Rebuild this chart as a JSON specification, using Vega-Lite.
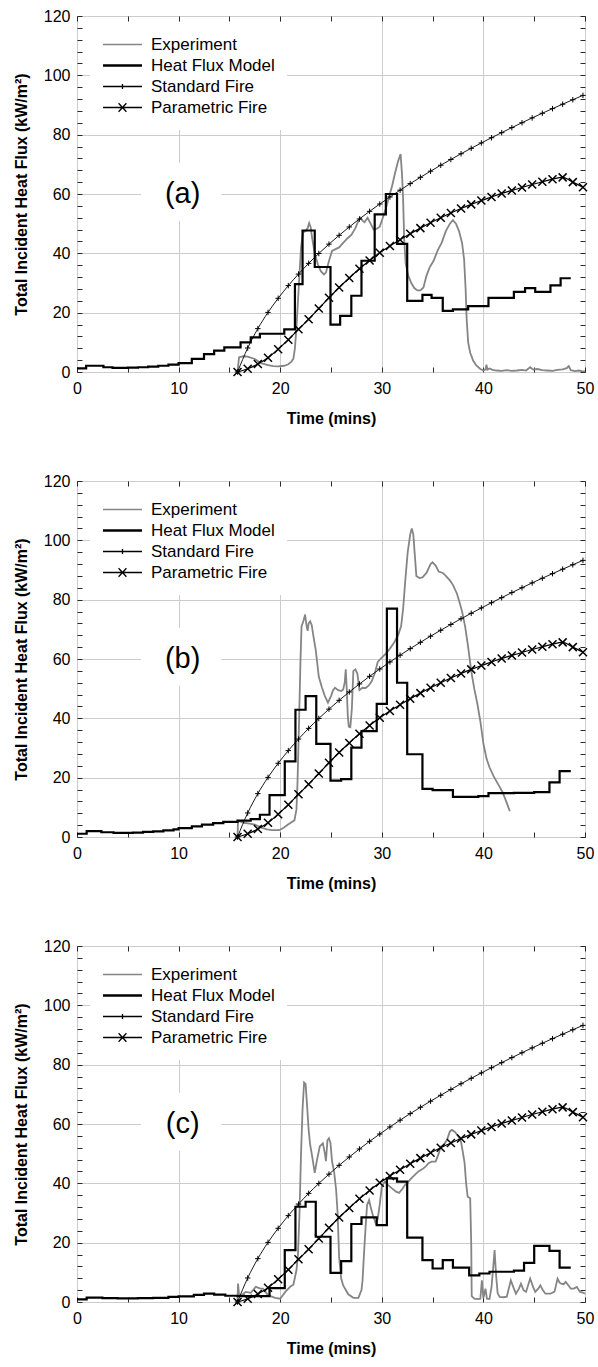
{
  "$schema": "https://vega.github.io/schema/vega-lite/v6.json",
  "padding": {"left": 12, "top": 7, "right": 0, "bottom": 0},
  "spacing": 45,
  "config": {
    "view": {"stroke": "#2a2a2a", "strokeWidth": 1},
    "font": "Liberation Sans",
    "axis": {"domain": false, "labelFont": "Liberation Sans", "labelFontSize": 16, "labelColor": "#000", "titleFont": "Liberation Sans", "titleFontSize": 16, "titleFontWeight": "bold", "titleColor": "#000", "gridColor": "#cccccc", "gridWidth": 1, "tickColor": "#2a2a2a", "tickWidth": 1, "labelFlush": false, "labelOverlap": false}
  },
  "resolve": {"scale": {"color": "independent", "x": "independent", "y": "independent"}},
  "datasets": {
    "std": [
      {"t":15.8,"q":0,"series":"Standard Fire"},{"t":16.8,"q":8.09,"series":"Standard Fire"},{"t":17.8,"q":14.62,"series":"Standard Fire"},{"t":18.8,"q":20.09,"series":"Standard Fire"},{"t":19.8,"q":24.84,"series":"Standard Fire"},{"t":20.8,"q":29.12,"series":"Standard Fire"},{"t":21.8,"q":33.01,"series":"Standard Fire"},{"t":22.8,"q":36.62,"series":"Standard Fire"},{"t":23.8,"q":39.95,"series":"Standard Fire"},{"t":24.8,"q":43.1,"series":"Standard Fire"},{"t":25.8,"q":46.07,"series":"Standard Fire"},{"t":26.8,"q":48.89,"series":"Standard Fire"},{"t":27.8,"q":51.58,"series":"Standard Fire"},{"t":28.8,"q":54.16,"series":"Standard Fire"},{"t":29.8,"q":56.62,"series":"Standard Fire"},{"t":30.8,"q":59.0,"series":"Standard Fire"},{"t":31.8,"q":61.29,"series":"Standard Fire"},{"t":32.8,"q":63.5,"series":"Standard Fire"},{"t":33.8,"q":65.63,"series":"Standard Fire"},{"t":34.8,"q":67.69,"series":"Standard Fire"},{"t":35.8,"q":69.69,"series":"Standard Fire"},{"t":36.8,"q":71.65,"series":"Standard Fire"},{"t":37.8,"q":73.57,"series":"Standard Fire"},{"t":38.8,"q":75.41,"series":"Standard Fire"},{"t":39.8,"q":77.21,"series":"Standard Fire"},{"t":40.8,"q":78.97,"series":"Standard Fire"},{"t":41.8,"q":80.68,"series":"Standard Fire"},{"t":42.8,"q":82.38,"series":"Standard Fire"},{"t":43.8,"q":84.02,"series":"Standard Fire"},{"t":44.8,"q":85.65,"series":"Standard Fire"},{"t":45.8,"q":87.22,"series":"Standard Fire"},{"t":46.8,"q":88.77,"series":"Standard Fire"},{"t":47.8,"q":90.27,"series":"Standard Fire"},{"t":48.8,"q":91.77,"series":"Standard Fire"},{"t":49.8,"q":93.24,"series":"Standard Fire"}
    ],
    "par": [
      {"t":15.8,"q":0,"series":"Parametric Fire"},{"t":16.8,"q":1.1,"series":"Parametric Fire"},{"t":17.8,"q":2.7,"series":"Parametric Fire"},{"t":18.8,"q":4.8,"series":"Parametric Fire"},{"t":19.8,"q":7.7,"series":"Parametric Fire"},{"t":20.8,"q":10.9,"series":"Parametric Fire"},{"t":21.8,"q":14.4,"series":"Parametric Fire"},{"t":22.8,"q":17.8,"series":"Parametric Fire"},{"t":23.8,"q":21.4,"series":"Parametric Fire"},{"t":24.8,"q":25.0,"series":"Parametric Fire"},{"t":25.8,"q":28.5,"series":"Parametric Fire"},{"t":26.8,"q":31.7,"series":"Parametric Fire"},{"t":27.8,"q":34.8,"series":"Parametric Fire"},{"t":28.8,"q":37.6,"series":"Parametric Fire"},{"t":29.8,"q":40.2,"series":"Parametric Fire"},{"t":30.8,"q":42.5,"series":"Parametric Fire"},{"t":31.8,"q":44.6,"series":"Parametric Fire"},{"t":32.8,"q":46.6,"series":"Parametric Fire"},{"t":33.8,"q":48.5,"series":"Parametric Fire"},{"t":34.8,"q":50.3,"series":"Parametric Fire"},{"t":35.8,"q":52.0,"series":"Parametric Fire"},{"t":36.8,"q":53.6,"series":"Parametric Fire"},{"t":37.8,"q":55.1,"series":"Parametric Fire"},{"t":38.8,"q":56.5,"series":"Parametric Fire"},{"t":39.8,"q":57.8,"series":"Parametric Fire"},{"t":40.8,"q":59.0,"series":"Parametric Fire"},{"t":41.8,"q":60.2,"series":"Parametric Fire"},{"t":42.8,"q":61.2,"series":"Parametric Fire"},{"t":43.8,"q":62.2,"series":"Parametric Fire"},{"t":44.8,"q":63.2,"series":"Parametric Fire"},{"t":45.8,"q":64.1,"series":"Parametric Fire"},{"t":46.8,"q":65.0,"series":"Parametric Fire"},{"t":47.8,"q":65.6,"series":"Parametric Fire"},{"t":48.8,"q":64.0,"series":"Parametric Fire"},{"t":49.8,"q":62.3,"series":"Parametric Fire"}
    ],
    "a_exp": [
      {"t":15.8,"q":0.2,"series":"Experiment"},{"t":15.95,"q":5.0,"series":"Experiment"},{"t":16.4,"q":5.3,"series":"Experiment"},{"t":16.8,"q":5.2,"series":"Experiment"},{"t":17.5,"q":4.4,"series":"Experiment"},{"t":18.1,"q":3.0,"series":"Experiment"},{"t":18.8,"q":2.3,"series":"Experiment"},{"t":19.3,"q":2.0,"series":"Experiment"},{"t":19.8,"q":1.9,"series":"Experiment"},{"t":20.4,"q":2.1,"series":"Experiment"},{"t":20.8,"q":2.6,"series":"Experiment"},{"t":21.1,"q":3.5,"series":"Experiment"},{"t":21.3,"q":4.5,"series":"Experiment"},{"t":21.45,"q":8,"series":"Experiment"},{"t":21.6,"q":15,"series":"Experiment"},{"t":21.75,"q":24,"series":"Experiment"},{"t":21.9,"q":33,"series":"Experiment"},{"t":22.05,"q":42,"series":"Experiment"},{"t":22.25,"q":47,"series":"Experiment"},{"t":22.5,"q":47.5,"series":"Experiment"},{"t":22.7,"q":48.5,"series":"Experiment"},{"t":22.85,"q":50.2,"series":"Experiment"},{"t":23.0,"q":48.8,"series":"Experiment"},{"t":23.15,"q":45,"series":"Experiment"},{"t":23.4,"q":40,"series":"Experiment"},{"t":23.7,"q":36.3,"series":"Experiment"},{"t":24.0,"q":34,"series":"Experiment"},{"t":24.3,"q":32.9,"series":"Experiment"},{"t":24.5,"q":33.5,"series":"Experiment"},{"t":24.8,"q":37.4,"series":"Experiment"},{"t":25.1,"q":40.8,"series":"Experiment"},{"t":25.5,"q":41.5,"series":"Experiment"},{"t":25.8,"q":42,"series":"Experiment"},{"t":26.2,"q":43.5,"series":"Experiment"},{"t":26.6,"q":45,"series":"Experiment"},{"t":27.0,"q":46.2,"series":"Experiment"},{"t":27.4,"q":48.5,"series":"Experiment"},{"t":27.7,"q":51,"series":"Experiment"},{"t":27.9,"q":52,"series":"Experiment"},{"t":28.1,"q":51,"series":"Experiment"},{"t":28.3,"q":50.5,"series":"Experiment"},{"t":28.6,"q":52,"series":"Experiment"},{"t":28.9,"q":50,"series":"Experiment"},{"t":29.2,"q":48,"series":"Experiment"},{"t":29.5,"q":48.3,"series":"Experiment"},{"t":29.8,"q":49,"series":"Experiment"},{"t":30.1,"q":52,"series":"Experiment"},{"t":30.4,"q":55,"series":"Experiment"},{"t":30.7,"q":59,"series":"Experiment"},{"t":31.0,"q":62.5,"series":"Experiment"},{"t":31.3,"q":67,"series":"Experiment"},{"t":31.6,"q":71,"series":"Experiment"},{"t":31.85,"q":73.5,"series":"Experiment"},{"t":32.0,"q":66,"series":"Experiment"},{"t":32.1,"q":58,"series":"Experiment"},{"t":32.2,"q":45,"series":"Experiment"},{"t":32.35,"q":36.5,"series":"Experiment"},{"t":32.6,"q":32.5,"series":"Experiment"},{"t":32.9,"q":30,"series":"Experiment"},{"t":33.2,"q":28.3,"series":"Experiment"},{"t":33.5,"q":27.5,"series":"Experiment"},{"t":33.8,"q":27.5,"series":"Experiment"},{"t":34.1,"q":28.5,"series":"Experiment"},{"t":34.4,"q":32.5,"series":"Experiment"},{"t":34.7,"q":35.2,"series":"Experiment"},{"t":35.1,"q":37.5,"series":"Experiment"},{"t":35.5,"q":41,"series":"Experiment"},{"t":35.9,"q":43.6,"series":"Experiment"},{"t":36.3,"q":47.5,"series":"Experiment"},{"t":36.7,"q":50,"series":"Experiment"},{"t":37.0,"q":51.2,"series":"Experiment"},{"t":37.3,"q":50,"series":"Experiment"},{"t":37.6,"q":47.5,"series":"Experiment"},{"t":37.9,"q":43.5,"series":"Experiment"},{"t":38.1,"q":38,"series":"Experiment"},{"t":38.25,"q":28,"series":"Experiment"},{"t":38.35,"q":18,"series":"Experiment"},{"t":38.5,"q":10,"series":"Experiment"},{"t":38.7,"q":6.5,"series":"Experiment"},{"t":39.0,"q":3.8,"series":"Experiment"},{"t":39.3,"q":2.2,"series":"Experiment"},{"t":39.7,"q":1.0,"series":"Experiment"},{"t":40.0,"q":0.5,"series":"Experiment"},{"t":40.2,"q":0.8,"series":"Experiment"},{"t":40.3,"q":2.5,"series":"Experiment"},{"t":40.4,"q":0.8,"series":"Experiment"},{"t":40.6,"q":1.2,"series":"Experiment"},{"t":40.9,"q":0.7,"series":"Experiment"},{"t":41.3,"q":0.5,"series":"Experiment"},{"t":41.8,"q":0.4,"series":"Experiment"},{"t":42.3,"q":0.6,"series":"Experiment"},{"t":42.8,"q":0.4,"series":"Experiment"},{"t":43.3,"q":0.5,"series":"Experiment"},{"t":43.8,"q":0.7,"series":"Experiment"},{"t":44.2,"q":0.5,"series":"Experiment"},{"t":44.6,"q":1.6,"series":"Experiment"},{"t":44.9,"q":0.8,"series":"Experiment"},{"t":45.3,"q":1.0,"series":"Experiment"},{"t":45.8,"q":0.6,"series":"Experiment"},{"t":46.3,"q":0.5,"series":"Experiment"},{"t":46.8,"q":0.4,"series":"Experiment"},{"t":47.3,"q":0.7,"series":"Experiment"},{"t":47.8,"q":0.9,"series":"Experiment"},{"t":48.2,"q":1.3,"series":"Experiment"},{"t":48.4,"q":2.0,"series":"Experiment"},{"t":48.6,"q":0.6,"series":"Experiment"},{"t":49.0,"q":0.3,"series":"Experiment"},{"t":49.4,"q":0.5,"series":"Experiment"},{"t":49.7,"q":0.3,"series":"Experiment"},{"t":50.0,"q":0.2,"series":"Experiment"}
    ],
    "a_mod": [
      {"t":0,"q":1.2,"series":"Heat Flux Model"},{"t":0.9,"q":2.1,"series":"Heat Flux Model"},{"t":2.6,"q":1.6,"series":"Heat Flux Model"},{"t":3.5,"q":1.4,"series":"Heat Flux Model"},{"t":5.0,"q":1.5,"series":"Heat Flux Model"},{"t":6.0,"q":1.6,"series":"Heat Flux Model"},{"t":7.0,"q":1.8,"series":"Heat Flux Model"},{"t":8.0,"q":2.1,"series":"Heat Flux Model"},{"t":9.0,"q":2.5,"series":"Heat Flux Model"},{"t":10.0,"q":3.0,"series":"Heat Flux Model"},{"t":11.3,"q":4.4,"series":"Heat Flux Model"},{"t":12.5,"q":6.0,"series":"Heat Flux Model"},{"t":13.5,"q":7.2,"series":"Heat Flux Model"},{"t":14.5,"q":8.3,"series":"Heat Flux Model"},{"t":16.1,"q":10.0,"series":"Heat Flux Model"},{"t":17.1,"q":11.7,"series":"Heat Flux Model"},{"t":18.0,"q":12.9,"series":"Heat Flux Model"},{"t":20.4,"q":14.4,"series":"Heat Flux Model"},{"t":21.45,"q":29.6,"series":"Heat Flux Model"},{"t":22.2,"q":47.7,"series":"Heat Flux Model"},{"t":23.4,"q":35.4,"series":"Heat Flux Model"},{"t":24.95,"q":16.0,"series":"Heat Flux Model"},{"t":25.9,"q":18.9,"series":"Heat Flux Model"},{"t":27.0,"q":25.7,"series":"Heat Flux Model"},{"t":28.0,"q":37.5,"series":"Heat Flux Model"},{"t":29.3,"q":53.1,"series":"Heat Flux Model"},{"t":30.4,"q":60.0,"series":"Heat Flux Model"},{"t":31.5,"q":43.2,"series":"Heat Flux Model"},{"t":32.5,"q":24.0,"series":"Heat Flux Model"},{"t":34.0,"q":26.0,"series":"Heat Flux Model"},{"t":34.9,"q":25.0,"series":"Heat Flux Model"},{"t":36.0,"q":20.6,"series":"Heat Flux Model"},{"t":37.0,"q":21.1,"series":"Heat Flux Model"},{"t":38.5,"q":22.2,"series":"Heat Flux Model"},{"t":40.5,"q":25.0,"series":"Heat Flux Model"},{"t":43.0,"q":27.0,"series":"Heat Flux Model"},{"t":44.1,"q":28.3,"series":"Heat Flux Model"},{"t":45.1,"q":27.0,"series":"Heat Flux Model"},{"t":46.6,"q":29.2,"series":"Heat Flux Model"},{"t":47.6,"q":31.6,"series":"Heat Flux Model"},{"t":48.6,"q":31.6,"series":"Heat Flux Model"}
    ],
    "b_exp": [
      {"t":15.8,"q":0,"series":"Experiment"},{"t":15.85,"q":5.5,"series":"Experiment"},{"t":16.4,"q":4.8,"series":"Experiment"},{"t":17.0,"q":4.5,"series":"Experiment"},{"t":17.5,"q":4.2,"series":"Experiment"},{"t":18.2,"q":3.1,"series":"Experiment"},{"t":18.7,"q":2.6,"series":"Experiment"},{"t":19.2,"q":2.3,"series":"Experiment"},{"t":19.9,"q":2.3,"series":"Experiment"},{"t":20.3,"q":3.0,"series":"Experiment"},{"t":20.6,"q":3.8,"series":"Experiment"},{"t":21.1,"q":5.0,"series":"Experiment"},{"t":21.4,"q":5.6,"series":"Experiment"},{"t":21.6,"q":9.3,"series":"Experiment"},{"t":21.7,"q":18,"series":"Experiment"},{"t":21.85,"q":38,"series":"Experiment"},{"t":22.0,"q":60,"series":"Experiment"},{"t":22.1,"q":71,"series":"Experiment"},{"t":22.3,"q":73,"series":"Experiment"},{"t":22.45,"q":75,"series":"Experiment"},{"t":22.6,"q":71,"series":"Experiment"},{"t":22.7,"q":69.5,"series":"Experiment"},{"t":22.8,"q":72,"series":"Experiment"},{"t":22.95,"q":72.7,"series":"Experiment"},{"t":23.1,"q":71.5,"series":"Experiment"},{"t":23.3,"q":67,"series":"Experiment"},{"t":23.5,"q":63,"series":"Experiment"},{"t":23.8,"q":54,"series":"Experiment"},{"t":24.1,"q":50.5,"series":"Experiment"},{"t":24.4,"q":47.5,"series":"Experiment"},{"t":24.7,"q":45.3,"series":"Experiment"},{"t":25.0,"q":47.5,"series":"Experiment"},{"t":25.2,"q":49.5,"series":"Experiment"},{"t":25.4,"q":50.3,"series":"Experiment"},{"t":25.7,"q":49.5,"series":"Experiment"},{"t":26.0,"q":49.2,"series":"Experiment"},{"t":26.2,"q":49.7,"series":"Experiment"},{"t":26.35,"q":52,"series":"Experiment"},{"t":26.45,"q":56.5,"series":"Experiment"},{"t":26.55,"q":50,"series":"Experiment"},{"t":26.65,"q":41,"series":"Experiment"},{"t":26.75,"q":37.2,"series":"Experiment"},{"t":26.9,"q":37,"series":"Experiment"},{"t":27.05,"q":43,"series":"Experiment"},{"t":27.2,"q":56,"series":"Experiment"},{"t":27.4,"q":56.5,"series":"Experiment"},{"t":27.6,"q":55,"series":"Experiment"},{"t":27.8,"q":49.5,"series":"Experiment"},{"t":28.1,"q":50.3,"series":"Experiment"},{"t":28.4,"q":50.2,"series":"Experiment"},{"t":28.7,"q":51,"series":"Experiment"},{"t":29.0,"q":52.5,"series":"Experiment"},{"t":29.3,"q":55,"series":"Experiment"},{"t":29.6,"q":59,"series":"Experiment"},{"t":30.0,"q":60.5,"series":"Experiment"},{"t":30.4,"q":61.8,"series":"Experiment"},{"t":30.8,"q":63.5,"series":"Experiment"},{"t":31.2,"q":65.5,"series":"Experiment"},{"t":31.6,"q":68,"series":"Experiment"},{"t":31.9,"q":71,"series":"Experiment"},{"t":32.1,"q":77,"series":"Experiment"},{"t":32.3,"q":86,"series":"Experiment"},{"t":32.55,"q":96,"series":"Experiment"},{"t":32.8,"q":102,"series":"Experiment"},{"t":32.95,"q":104,"series":"Experiment"},{"t":33.1,"q":102,"series":"Experiment"},{"t":33.25,"q":95,"series":"Experiment"},{"t":33.4,"q":88,"series":"Experiment"},{"t":33.7,"q":87.3,"series":"Experiment"},{"t":34.0,"q":87.5,"series":"Experiment"},{"t":34.4,"q":89,"series":"Experiment"},{"t":34.8,"q":92,"series":"Experiment"},{"t":35.0,"q":92.6,"series":"Experiment"},{"t":35.3,"q":91.5,"series":"Experiment"},{"t":35.6,"q":89.5,"series":"Experiment"},{"t":36.0,"q":89,"series":"Experiment"},{"t":36.3,"q":88,"series":"Experiment"},{"t":36.7,"q":86.5,"series":"Experiment"},{"t":37.0,"q":85,"series":"Experiment"},{"t":37.4,"q":82,"series":"Experiment"},{"t":37.7,"q":78.5,"series":"Experiment"},{"t":37.9,"q":76,"series":"Experiment"},{"t":38.2,"q":71,"series":"Experiment"},{"t":38.5,"q":64,"series":"Experiment"},{"t":38.8,"q":56,"series":"Experiment"},{"t":39.1,"q":50,"series":"Experiment"},{"t":39.4,"q":45,"series":"Experiment"},{"t":39.7,"q":39,"series":"Experiment"},{"t":40.0,"q":31.5,"series":"Experiment"},{"t":40.3,"q":26.5,"series":"Experiment"},{"t":40.6,"q":23.5,"series":"Experiment"},{"t":41.0,"q":20.5,"series":"Experiment"},{"t":41.5,"q":17.5,"series":"Experiment"},{"t":41.9,"q":15,"series":"Experiment"},{"t":42.3,"q":11.5,"series":"Experiment"},{"t":42.6,"q":8.7,"series":"Experiment"}
    ],
    "b_mod": [
      {"t":0,"q":1.1,"series":"Heat Flux Model"},{"t":0.95,"q":2.0,"series":"Heat Flux Model"},{"t":2.4,"q":1.6,"series":"Heat Flux Model"},{"t":3.6,"q":1.4,"series":"Heat Flux Model"},{"t":5.5,"q":1.5,"series":"Heat Flux Model"},{"t":6.5,"q":1.7,"series":"Heat Flux Model"},{"t":7.5,"q":1.9,"series":"Heat Flux Model"},{"t":8.5,"q":2.2,"series":"Heat Flux Model"},{"t":9.5,"q":2.6,"series":"Heat Flux Model"},{"t":10.0,"q":3.0,"series":"Heat Flux Model"},{"t":11.3,"q":3.6,"series":"Heat Flux Model"},{"t":12.3,"q":4.2,"series":"Heat Flux Model"},{"t":13.4,"q":4.7,"series":"Heat Flux Model"},{"t":14.4,"q":5.1,"series":"Heat Flux Model"},{"t":15.8,"q":5.5,"series":"Heat Flux Model"},{"t":17.1,"q":6.0,"series":"Heat Flux Model"},{"t":18.0,"q":7.5,"series":"Heat Flux Model"},{"t":18.95,"q":14.1,"series":"Heat Flux Model"},{"t":20.45,"q":25.5,"series":"Heat Flux Model"},{"t":21.5,"q":42.9,"series":"Heat Flux Model"},{"t":22.5,"q":47.5,"series":"Heat Flux Model"},{"t":23.55,"q":31.4,"series":"Heat Flux Model"},{"t":24.95,"q":19.0,"series":"Heat Flux Model"},{"t":26.0,"q":19.5,"series":"Heat Flux Model"},{"t":27.0,"q":30.1,"series":"Heat Flux Model"},{"t":28.0,"q":35.7,"series":"Heat Flux Model"},{"t":29.5,"q":44.9,"series":"Heat Flux Model"},{"t":30.5,"q":77.0,"series":"Heat Flux Model"},{"t":31.5,"q":52.0,"series":"Heat Flux Model"},{"t":32.5,"q":27.9,"series":"Heat Flux Model"},{"t":34.0,"q":16.2,"series":"Heat Flux Model"},{"t":35.0,"q":15.8,"series":"Heat Flux Model"},{"t":37.0,"q":13.5,"series":"Heat Flux Model"},{"t":39.5,"q":13.8,"series":"Heat Flux Model"},{"t":40.5,"q":14.8,"series":"Heat Flux Model"},{"t":43.0,"q":14.9,"series":"Heat Flux Model"},{"t":45.0,"q":15.1,"series":"Heat Flux Model"},{"t":46.5,"q":18.4,"series":"Heat Flux Model"},{"t":47.5,"q":22.2,"series":"Heat Flux Model"},{"t":48.6,"q":22.2,"series":"Heat Flux Model"}
    ],
    "c_exp": [
      {"t":15.8,"q":0.5,"series":"Experiment"},{"t":15.85,"q":6.2,"series":"Experiment"},{"t":15.95,"q":2.5,"series":"Experiment"},{"t":16.2,"q":2.3,"series":"Experiment"},{"t":16.6,"q":3.4,"series":"Experiment"},{"t":17.1,"q":3.1,"series":"Experiment"},{"t":17.6,"q":5.1,"series":"Experiment"},{"t":18.0,"q":4.6,"series":"Experiment"},{"t":18.3,"q":4.5,"series":"Experiment"},{"t":18.8,"q":2.3,"series":"Experiment"},{"t":19.5,"q":1.4,"series":"Experiment"},{"t":20.0,"q":1.1,"series":"Experiment"},{"t":20.5,"q":3.4,"series":"Experiment"},{"t":21.0,"q":5.2,"series":"Experiment"},{"t":21.3,"q":5.8,"series":"Experiment"},{"t":21.6,"q":10.7,"series":"Experiment"},{"t":21.75,"q":16,"series":"Experiment"},{"t":21.9,"q":30,"series":"Experiment"},{"t":22.05,"q":50,"series":"Experiment"},{"t":22.2,"q":65,"series":"Experiment"},{"t":22.35,"q":74,"series":"Experiment"},{"t":22.5,"q":73.5,"series":"Experiment"},{"t":22.65,"q":66,"series":"Experiment"},{"t":22.8,"q":58,"series":"Experiment"},{"t":22.95,"q":53,"series":"Experiment"},{"t":23.15,"q":49,"series":"Experiment"},{"t":23.4,"q":43.5,"series":"Experiment"},{"t":23.6,"q":47.5,"series":"Experiment"},{"t":23.9,"q":52.5,"series":"Experiment"},{"t":24.2,"q":53.5,"series":"Experiment"},{"t":24.4,"q":50,"series":"Experiment"},{"t":24.5,"q":47.5,"series":"Experiment"},{"t":24.65,"q":54.5,"series":"Experiment"},{"t":24.8,"q":55.2,"series":"Experiment"},{"t":24.95,"q":53.5,"series":"Experiment"},{"t":25.1,"q":47.5,"series":"Experiment"},{"t":25.3,"q":44,"series":"Experiment"},{"t":25.5,"q":38,"series":"Experiment"},{"t":25.65,"q":30,"series":"Experiment"},{"t":25.8,"q":15,"series":"Experiment"},{"t":26.0,"q":8,"series":"Experiment"},{"t":26.2,"q":5.6,"series":"Experiment"},{"t":26.7,"q":2.6,"series":"Experiment"},{"t":27.2,"q":1.4,"series":"Experiment"},{"t":27.7,"q":1.4,"series":"Experiment"},{"t":28.0,"q":4,"series":"Experiment"},{"t":28.1,"q":7,"series":"Experiment"},{"t":28.25,"q":16.4,"series":"Experiment"},{"t":28.4,"q":25,"series":"Experiment"},{"t":28.55,"q":32.7,"series":"Experiment"},{"t":28.75,"q":34.4,"series":"Experiment"},{"t":28.9,"q":32,"series":"Experiment"},{"t":29.1,"q":29.5,"series":"Experiment"},{"t":29.4,"q":26.5,"series":"Experiment"},{"t":29.6,"q":28,"series":"Experiment"},{"t":29.8,"q":33,"series":"Experiment"},{"t":30.0,"q":38.9,"series":"Experiment"},{"t":30.3,"q":40.6,"series":"Experiment"},{"t":30.6,"q":39.5,"series":"Experiment"},{"t":31.0,"q":38.3,"series":"Experiment"},{"t":31.4,"q":37.2,"series":"Experiment"},{"t":31.7,"q":36.8,"series":"Experiment"},{"t":32.0,"q":38,"series":"Experiment"},{"t":32.3,"q":39.5,"series":"Experiment"},{"t":32.6,"q":40.5,"series":"Experiment"},{"t":32.9,"q":41.7,"series":"Experiment"},{"t":33.3,"q":43,"series":"Experiment"},{"t":33.6,"q":44,"series":"Experiment"},{"t":34.0,"q":44.8,"series":"Experiment"},{"t":34.3,"q":45.6,"series":"Experiment"},{"t":34.6,"q":46.8,"series":"Experiment"},{"t":34.9,"q":47.3,"series":"Experiment"},{"t":35.3,"q":47.3,"series":"Experiment"},{"t":35.6,"q":50,"series":"Experiment"},{"t":35.8,"q":52.4,"series":"Experiment"},{"t":36.1,"q":53,"series":"Experiment"},{"t":36.4,"q":54.5,"series":"Experiment"},{"t":36.7,"q":57.5,"series":"Experiment"},{"t":36.9,"q":58,"series":"Experiment"},{"t":37.2,"q":57.3,"series":"Experiment"},{"t":37.5,"q":56,"series":"Experiment"},{"t":37.8,"q":54,"series":"Experiment"},{"t":38.0,"q":50,"series":"Experiment"},{"t":38.15,"q":46.8,"series":"Experiment"},{"t":38.3,"q":40,"series":"Experiment"},{"t":38.45,"q":35.5,"series":"Experiment"},{"t":38.7,"q":35,"series":"Experiment"},{"t":38.8,"q":20,"series":"Experiment"},{"t":38.85,"q":2,"series":"Experiment"},{"t":39.1,"q":1.1,"series":"Experiment"},{"t":39.5,"q":1.0,"series":"Experiment"},{"t":39.7,"q":1.1,"series":"Experiment"},{"t":39.85,"q":7.3,"series":"Experiment"},{"t":40.0,"q":1.2,"series":"Experiment"},{"t":40.2,"q":4.5,"series":"Experiment"},{"t":40.35,"q":1.1,"series":"Experiment"},{"t":40.6,"q":1.0,"series":"Experiment"},{"t":40.8,"q":5.1,"series":"Experiment"},{"t":40.95,"q":11,"series":"Experiment"},{"t":41.1,"q":17.5,"series":"Experiment"},{"t":41.25,"q":9,"series":"Experiment"},{"t":41.4,"q":3,"series":"Experiment"},{"t":41.6,"q":1.7,"series":"Experiment"},{"t":42.0,"q":1.6,"series":"Experiment"},{"t":42.3,"q":1.8,"series":"Experiment"},{"t":42.7,"q":7.3,"series":"Experiment"},{"t":43.0,"q":4.5,"series":"Experiment"},{"t":43.2,"q":2.8,"series":"Experiment"},{"t":43.5,"q":4.5,"series":"Experiment"},{"t":43.7,"q":6.2,"series":"Experiment"},{"t":43.95,"q":4,"series":"Experiment"},{"t":44.2,"q":3.4,"series":"Experiment"},{"t":44.6,"q":7.9,"series":"Experiment"},{"t":44.9,"q":5,"series":"Experiment"},{"t":45.1,"q":3.4,"series":"Experiment"},{"t":45.4,"q":4.5,"series":"Experiment"},{"t":45.6,"q":5.6,"series":"Experiment"},{"t":45.85,"q":4,"series":"Experiment"},{"t":46.1,"q":2.8,"series":"Experiment"},{"t":46.6,"q":2.8,"series":"Experiment"},{"t":47.0,"q":3.5,"series":"Experiment"},{"t":47.3,"q":7.9,"series":"Experiment"},{"t":47.5,"q":6.5,"series":"Experiment"},{"t":47.65,"q":6.2,"series":"Experiment"},{"t":47.9,"q":6.0,"series":"Experiment"},{"t":48.1,"q":6.8,"series":"Experiment"},{"t":48.4,"q":5.5,"series":"Experiment"},{"t":48.6,"q":4.5,"series":"Experiment"},{"t":48.9,"q":4.5,"series":"Experiment"},{"t":49.2,"q":5.1,"series":"Experiment"},{"t":49.5,"q":3.4,"series":"Experiment"},{"t":49.8,"q":3.2,"series":"Experiment"},{"t":50.0,"q":2.8,"series":"Experiment"}
    ],
    "c_mod": [
      {"t":0,"q":0.9,"series":"Heat Flux Model"},{"t":0.95,"q":1.5,"series":"Heat Flux Model"},{"t":2.5,"q":1.3,"series":"Heat Flux Model"},{"t":4.0,"q":1.2,"series":"Heat Flux Model"},{"t":6.0,"q":1.3,"series":"Heat Flux Model"},{"t":7.5,"q":1.4,"series":"Heat Flux Model"},{"t":9.0,"q":1.7,"series":"Heat Flux Model"},{"t":10.0,"q":1.9,"series":"Heat Flux Model"},{"t":11.5,"q":2.4,"series":"Heat Flux Model"},{"t":12.5,"q":2.8,"series":"Heat Flux Model"},{"t":13.5,"q":2.5,"series":"Heat Flux Model"},{"t":14.6,"q":2.1,"series":"Heat Flux Model"},{"t":15.8,"q":2.0,"series":"Heat Flux Model"},{"t":18.95,"q":4.7,"series":"Heat Flux Model"},{"t":20.45,"q":17.5,"series":"Heat Flux Model"},{"t":21.5,"q":32.1,"series":"Heat Flux Model"},{"t":22.5,"q":33.8,"series":"Heat Flux Model"},{"t":23.5,"q":22.0,"series":"Heat Flux Model"},{"t":24.95,"q":9.8,"series":"Heat Flux Model"},{"t":26.0,"q":13.8,"series":"Heat Flux Model"},{"t":27.0,"q":26.3,"series":"Heat Flux Model"},{"t":28.0,"q":28.5,"series":"Heat Flux Model"},{"t":29.5,"q":25.9,"series":"Heat Flux Model"},{"t":30.5,"q":41.7,"series":"Heat Flux Model"},{"t":31.5,"q":40.6,"series":"Heat Flux Model"},{"t":32.5,"q":21.7,"series":"Heat Flux Model"},{"t":34.0,"q":14.1,"series":"Heat Flux Model"},{"t":35.0,"q":11.3,"series":"Heat Flux Model"},{"t":36.0,"q":14.1,"series":"Heat Flux Model"},{"t":37.0,"q":11.6,"series":"Heat Flux Model"},{"t":38.6,"q":9.0,"series":"Heat Flux Model"},{"t":39.6,"q":9.6,"series":"Heat Flux Model"},{"t":40.6,"q":10.2,"series":"Heat Flux Model"},{"t":43.0,"q":10.6,"series":"Heat Flux Model"},{"t":44.0,"q":13.2,"series":"Heat Flux Model"},{"t":45.0,"q":18.9,"series":"Heat Flux Model"},{"t":46.5,"q":17.2,"series":"Heat Flux Model"},{"t":47.5,"q":11.6,"series":"Heat Flux Model"},{"t":48.6,"q":11.6,"series":"Heat Flux Model"}
    ]
  },
  "vconcat": [
    {
      "width": 508, "height": 356,
      "resolve": {"axis": {"x": "independent", "y": "independent"}},
      "layer": [
        {"data": {"values": [{"label": "(a)"}]}, "mark": {"type": "rect", "fill": "white"}, "encoding": {"x": {"datum": 6.3, "type": "quantitative", "axis": null}, "x2": {"datum": 14.2}, "y": {"datum": 51, "type": "quantitative", "axis": null}, "y2": {"datum": 70.5}}},
        {"data": {"values": [{"label": "(a)"}]}, "mark": {"type": "text", "font": "Liberation Sans", "fontSize": 29, "color": "black"}, "encoding": {"x": {"datum": 10.4, "type": "quantitative", "axis": null}, "y": {"datum": 60, "type": "quantitative", "axis": null}, "text": {"field": "label"}}},
        {"data": {"name": "a_exp"}, "mark": {"type": "line", "strokeWidth": 1.8},
          "encoding": {
            "x": {"field": "t", "type": "quantitative", "scale": {"domain": [0, 50], "nice": false, "zero": false}, "axis": {"orient": "bottom", "values": [0,10,20,30,40,50], "ticks": false, "labelPadding": 8, "title": "Time (mins)", "titlePadding": 14, "grid": true}},
            "y": {"field": "q", "type": "quantitative", "scale": {"domain": [0, 120], "nice": false}, "axis": {"orient": "left", "values": [0,20,40,60,80,100,120], "ticks": false, "labelPadding": 7, "title": "Total Incident Heat Flux (kW/m²)", "titlePadding": 14, "grid": true}},
            "color": {"field": "series", "type": "nominal", "scale": {"domain": ["Experiment", "Heat Flux Model", "Standard Fire", "Parametric Fire"], "range": ["#858585", "#000000", "#000000", "#000000"]},
              "legend": {"title": null, "orient": "none", "legendX": 13, "legendY": 6, "padding": 12, "fillColor": "white", "labelFont": "Liberation Sans", "labelFontSize": 17, "labelColor": "black", "symbolSize": 1521, "symbolStrokeWidth": 1.3, "clipHeight": 21, "rowPadding": 0, "labelOffset": 8, "symbolOffset": 0,
                "encode": {"symbols": {"update": {"shape": {"signal": "datum.value === 'Standard Fire' ? 'M-1,0H1M0,-0.13V0.13' : datum.value === 'Parametric Fire' ? 'M-1,0H1M-0.2,-0.22L0.2,0.22M-0.2,0.22L0.2,-0.22' : datum.value === 'Heat Flux Model' ? 'M-1,-0.03H1M-1,0.03H1' : 'M-1,0H1'"}, "fill": {"value": "transparent"}}}}}}
          }},
        {"data": {"name": "a_mod"}, "mark": {"type": "line", "strokeWidth": 2.2, "interpolate": "step-after"},
          "encoding": {
            "x": {"field": "t", "type": "quantitative", "axis": {"orient": "bottom", "values": [0,5,10,15,20,25,30,35,40,45,50], "labels": false, "grid": false, "tickSize": -5, "title": null}},
            "y": {"field": "q", "type": "quantitative", "axis": {"orient": "left", "values": [0,4,8,12,16,20,24,28,32,36,40,44,48,52,56,60,64,68,72,76,80,84,88,92,96,100,104,108,112,116,120], "labels": false, "grid": false, "tickSize": -5, "title": null}},
            "color": {"field": "series", "type": "nominal"}
          }},
        {"data": {"name": "std"}, "mark": {"type": "line", "strokeWidth": 0.9, "interpolate": "monotone"},
          "encoding": {
            "x": {"field": "t", "type": "quantitative", "axis": {"orient": "top", "values": [0,5,10,15,20,25,30,35,40,45,50], "labels": false, "grid": false, "tickSize": -5, "title": null}},
            "y": {"field": "q", "type": "quantitative", "axis": {"orient": "right", "values": [0,4,8,12,16,20,24,28,32,36,40,44,48,52,56,60,64,68,72,76,80,84,88,92,96,100,104,108,112,116,120], "labels": false, "grid": false, "tickSize": -5, "title": null}},
            "color": {"field": "series", "type": "nominal"}
          }},
        {"data": {"name": "std"}, "mark": {"type": "point", "shape": "M-1,0H1M0,-1V1", "size": 30, "filled": false, "color": "black", "strokeWidth": 1, "opacity": 1},
          "encoding": {"x": {"field": "t", "type": "quantitative", "axis": null}, "y": {"field": "q", "type": "quantitative", "axis": null}}},
        {"data": {"name": "par"}, "mark": {"type": "line", "strokeWidth": 1.2, "interpolate": "monotone"},
          "encoding": {"x": {"field": "t", "type": "quantitative", "axis": null}, "y": {"field": "q", "type": "quantitative", "axis": null}, "color": {"field": "series", "type": "nominal"}}},
        {"data": {"name": "par"}, "mark": {"type": "point", "shape": "M-1,-1L1,1M-1,1L1,-1", "size": 64, "filled": false, "color": "black", "strokeWidth": 1.5, "opacity": 1},
          "encoding": {"x": {"field": "t", "type": "quantitative", "axis": null}, "y": {"field": "q", "type": "quantitative", "axis": null}}}
      ]
    },
    {
      "width": 508, "height": 356,
      "resolve": {"axis": {"x": "independent", "y": "independent"}},
      "layer": [
        {"data": {"values": [{"label": "(b)"}]}, "mark": {"type": "rect", "fill": "white"}, "encoding": {"x": {"datum": 6.3, "type": "quantitative", "axis": null}, "x2": {"datum": 14.2}, "y": {"datum": 51, "type": "quantitative", "axis": null}, "y2": {"datum": 70.5}}},
        {"data": {"values": [{"label": "(b)"}]}, "mark": {"type": "text", "font": "Liberation Sans", "fontSize": 29, "color": "black"}, "encoding": {"x": {"datum": 10.4, "type": "quantitative", "axis": null}, "y": {"datum": 60, "type": "quantitative", "axis": null}, "text": {"field": "label"}}},
        {"data": {"name": "b_exp"}, "mark": {"type": "line", "strokeWidth": 1.8},
          "encoding": {
            "x": {"field": "t", "type": "quantitative", "scale": {"domain": [0, 50], "nice": false, "zero": false}, "axis": {"orient": "bottom", "values": [0,10,20,30,40,50], "ticks": false, "labelPadding": 8, "title": "Time (mins)", "titlePadding": 14, "grid": true}},
            "y": {"field": "q", "type": "quantitative", "scale": {"domain": [0, 120], "nice": false}, "axis": {"orient": "left", "values": [0,20,40,60,80,100,120], "ticks": false, "labelPadding": 7, "title": "Total Incident Heat Flux (kW/m²)", "titlePadding": 14, "grid": true}},
            "color": {"field": "series", "type": "nominal", "scale": {"domain": ["Experiment", "Heat Flux Model", "Standard Fire", "Parametric Fire"], "range": ["#858585", "#000000", "#000000", "#000000"]},
              "legend": {"title": null, "orient": "none", "legendX": 13, "legendY": 6, "padding": 12, "fillColor": "white", "labelFont": "Liberation Sans", "labelFontSize": 17, "labelColor": "black", "symbolSize": 1521, "symbolStrokeWidth": 1.3, "clipHeight": 21, "rowPadding": 0, "labelOffset": 8, "symbolOffset": 0,
                "encode": {"symbols": {"update": {"shape": {"signal": "datum.value === 'Standard Fire' ? 'M-1,0H1M0,-0.13V0.13' : datum.value === 'Parametric Fire' ? 'M-1,0H1M-0.2,-0.22L0.2,0.22M-0.2,0.22L0.2,-0.22' : datum.value === 'Heat Flux Model' ? 'M-1,-0.03H1M-1,0.03H1' : 'M-1,0H1'"}, "fill": {"value": "transparent"}}}}}}
          }},
        {"data": {"name": "b_mod"}, "mark": {"type": "line", "strokeWidth": 2.2, "interpolate": "step-after"},
          "encoding": {
            "x": {"field": "t", "type": "quantitative", "axis": {"orient": "bottom", "values": [0,5,10,15,20,25,30,35,40,45,50], "labels": false, "grid": false, "tickSize": -5, "title": null}},
            "y": {"field": "q", "type": "quantitative", "axis": {"orient": "left", "values": [0,4,8,12,16,20,24,28,32,36,40,44,48,52,56,60,64,68,72,76,80,84,88,92,96,100,104,108,112,116,120], "labels": false, "grid": false, "tickSize": -5, "title": null}},
            "color": {"field": "series", "type": "nominal"}
          }},
        {"data": {"name": "std"}, "mark": {"type": "line", "strokeWidth": 0.9, "interpolate": "monotone"},
          "encoding": {
            "x": {"field": "t", "type": "quantitative", "axis": {"orient": "top", "values": [0,5,10,15,20,25,30,35,40,45,50], "labels": false, "grid": false, "tickSize": -5, "title": null}},
            "y": {"field": "q", "type": "quantitative", "axis": {"orient": "right", "values": [0,4,8,12,16,20,24,28,32,36,40,44,48,52,56,60,64,68,72,76,80,84,88,92,96,100,104,108,112,116,120], "labels": false, "grid": false, "tickSize": -5, "title": null}},
            "color": {"field": "series", "type": "nominal"}
          }},
        {"data": {"name": "std"}, "mark": {"type": "point", "shape": "M-1,0H1M0,-1V1", "size": 30, "filled": false, "color": "black", "strokeWidth": 1, "opacity": 1},
          "encoding": {"x": {"field": "t", "type": "quantitative", "axis": null}, "y": {"field": "q", "type": "quantitative", "axis": null}}},
        {"data": {"name": "par"}, "mark": {"type": "line", "strokeWidth": 1.2, "interpolate": "monotone"},
          "encoding": {"x": {"field": "t", "type": "quantitative", "axis": null}, "y": {"field": "q", "type": "quantitative", "axis": null}, "color": {"field": "series", "type": "nominal"}}},
        {"data": {"name": "par"}, "mark": {"type": "point", "shape": "M-1,-1L1,1M-1,1L1,-1", "size": 64, "filled": false, "color": "black", "strokeWidth": 1.5, "opacity": 1},
          "encoding": {"x": {"field": "t", "type": "quantitative", "axis": null}, "y": {"field": "q", "type": "quantitative", "axis": null}}}
      ]
    },
    {
      "width": 508, "height": 356,
      "resolve": {"axis": {"x": "independent", "y": "independent"}},
      "layer": [
        {"data": {"values": [{"label": "(c)"}]}, "mark": {"type": "rect", "fill": "white"}, "encoding": {"x": {"datum": 6.3, "type": "quantitative", "axis": null}, "x2": {"datum": 14.2}, "y": {"datum": 51, "type": "quantitative", "axis": null}, "y2": {"datum": 70.5}}},
        {"data": {"values": [{"label": "(c)"}]}, "mark": {"type": "text", "font": "Liberation Sans", "fontSize": 29, "color": "black"}, "encoding": {"x": {"datum": 10.4, "type": "quantitative", "axis": null}, "y": {"datum": 60, "type": "quantitative", "axis": null}, "text": {"field": "label"}}},
        {"data": {"name": "c_exp"}, "mark": {"type": "line", "strokeWidth": 1.8},
          "encoding": {
            "x": {"field": "t", "type": "quantitative", "scale": {"domain": [0, 50], "nice": false, "zero": false}, "axis": {"orient": "bottom", "values": [0,10,20,30,40,50], "ticks": false, "labelPadding": 8, "title": "Time (mins)", "titlePadding": 14, "grid": true}},
            "y": {"field": "q", "type": "quantitative", "scale": {"domain": [0, 120], "nice": false}, "axis": {"orient": "left", "values": [0,20,40,60,80,100,120], "ticks": false, "labelPadding": 7, "title": "Total Incident Heat Flux (kW/m²)", "titlePadding": 14, "grid": true}},
            "color": {"field": "series", "type": "nominal", "scale": {"domain": ["Experiment", "Heat Flux Model", "Standard Fire", "Parametric Fire"], "range": ["#858585", "#000000", "#000000", "#000000"]},
              "legend": {"title": null, "orient": "none", "legendX": 13, "legendY": 6, "padding": 12, "fillColor": "white", "labelFont": "Liberation Sans", "labelFontSize": 17, "labelColor": "black", "symbolSize": 1521, "symbolStrokeWidth": 1.3, "clipHeight": 21, "rowPadding": 0, "labelOffset": 8, "symbolOffset": 0,
                "encode": {"symbols": {"update": {"shape": {"signal": "datum.value === 'Standard Fire' ? 'M-1,0H1M0,-0.13V0.13' : datum.value === 'Parametric Fire' ? 'M-1,0H1M-0.2,-0.22L0.2,0.22M-0.2,0.22L0.2,-0.22' : datum.value === 'Heat Flux Model' ? 'M-1,-0.03H1M-1,0.03H1' : 'M-1,0H1'"}, "fill": {"value": "transparent"}}}}}}
          }},
        {"data": {"name": "c_mod"}, "mark": {"type": "line", "strokeWidth": 2.2, "interpolate": "step-after"},
          "encoding": {
            "x": {"field": "t", "type": "quantitative", "axis": {"orient": "bottom", "values": [0,5,10,15,20,25,30,35,40,45,50], "labels": false, "grid": false, "tickSize": -5, "title": null}},
            "y": {"field": "q", "type": "quantitative", "axis": {"orient": "left", "values": [0,4,8,12,16,20,24,28,32,36,40,44,48,52,56,60,64,68,72,76,80,84,88,92,96,100,104,108,112,116,120], "labels": false, "grid": false, "tickSize": -5, "title": null}},
            "color": {"field": "series", "type": "nominal"}
          }},
        {"data": {"name": "std"}, "mark": {"type": "line", "strokeWidth": 0.9, "interpolate": "monotone"},
          "encoding": {
            "x": {"field": "t", "type": "quantitative", "axis": {"orient": "top", "values": [0,5,10,15,20,25,30,35,40,45,50], "labels": false, "grid": false, "tickSize": -5, "title": null}},
            "y": {"field": "q", "type": "quantitative", "axis": {"orient": "right", "values": [0,4,8,12,16,20,24,28,32,36,40,44,48,52,56,60,64,68,72,76,80,84,88,92,96,100,104,108,112,116,120], "labels": false, "grid": false, "tickSize": -5, "title": null}},
            "color": {"field": "series", "type": "nominal"}
          }},
        {"data": {"name": "std"}, "mark": {"type": "point", "shape": "M-1,0H1M0,-1V1", "size": 30, "filled": false, "color": "black", "strokeWidth": 1, "opacity": 1},
          "encoding": {"x": {"field": "t", "type": "quantitative", "axis": null}, "y": {"field": "q", "type": "quantitative", "axis": null}}},
        {"data": {"name": "par"}, "mark": {"type": "line", "strokeWidth": 1.2, "interpolate": "monotone"},
          "encoding": {"x": {"field": "t", "type": "quantitative", "axis": null}, "y": {"field": "q", "type": "quantitative", "axis": null}, "color": {"field": "series", "type": "nominal"}}},
        {"data": {"name": "par"}, "mark": {"type": "point", "shape": "M-1,-1L1,1M-1,1L1,-1", "size": 64, "filled": false, "color": "black", "strokeWidth": 1.5, "opacity": 1},
          "encoding": {"x": {"field": "t", "type": "quantitative", "axis": null}, "y": {"field": "q", "type": "quantitative", "axis": null}}}
      ]
    }
  ]
}
